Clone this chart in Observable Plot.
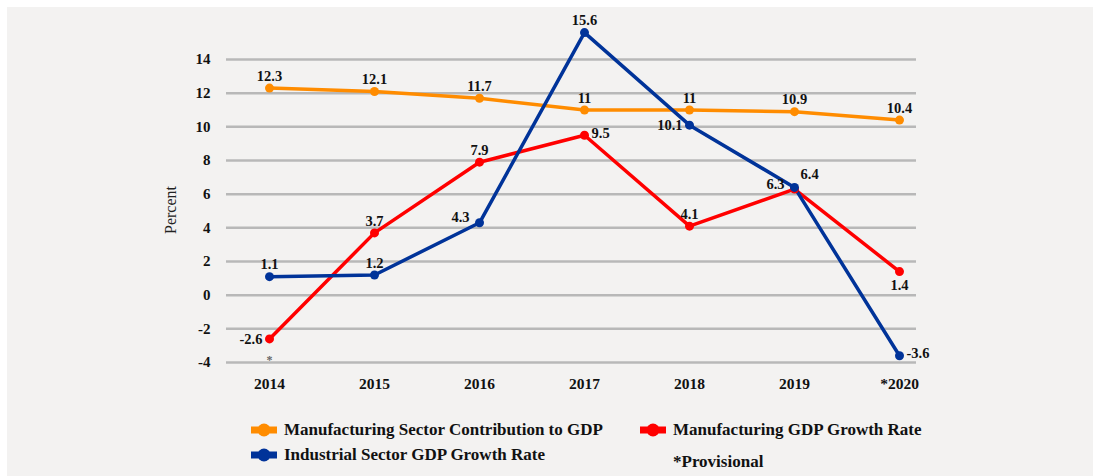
<!DOCTYPE html>
<html>
<head>
<meta charset="utf-8">
<script src="https://cdn.jsdelivr.net/npm/d3@7"></script>
<script src="https://cdn.jsdelivr.net/npm/@observablehq/plot@0.6"></script>
<style>
  html, body { margin: 0; padding: 0; background: #ffffff; width: 1093px; height: 476px; overflow: hidden; }
  #panel { position: absolute; left: 7px; top: 7px; right: 0; bottom: 0; background: #f3f2f1; }
  #chart { position: absolute; left: 0; top: 0; }
  #legend { position: absolute; left: 0; top: 0; width: 1093px; height: 476px; font-family: "Liberation Serif", "DejaVu Serif", serif; font-weight: bold; font-size: 17px; color: #111; }
  .item { position: absolute; display: flex; align-items: center; white-space: nowrap; }
  .item svg { margin-right: 6px; }
  #chart svg text { font-family: "Liberation Serif", "DejaVu Serif", serif; }
</style>
</head>
<body>
<div id="panel"></div>
<div id="chart"></div>
<div id="legend"></div>
<script>
const years = ["2014", "2015", "2016", "2017", "2018", "2019", "2020"];
const tickLabels = ["2014", "2015", "2016", "2017", "2018", "2019", "*2020"];
const yTicks = [-4, -2, 0, 2, 4, 6, 8, 10, 12, 14];

const seriesNames = [
  "Manufacturing Sector Contribution to GDP",
  "Manufacturing GDP Growth Rate",
  "Industrial Sector GDP Growth Rate"
];
const mfgContribution = [12.3, 12.1, 11.7, 11, 11, 10.9, 10.4];
const mfgGrowth = [-2.6, 3.7, 7.9, 9.5, 4.1, 6.3, 1.4];
const industrialGrowth = [1.1, 1.2, 4.3, 15.6, 10.1, 6.4, -3.6];

// label placement (styling only)
const mfgContributionPos = ["above", "above", "above", "above", "above", "above", "above"];
const mfgGrowthPos = ["left", "above", "above", "right", "above", "upperleft", "below"];
const industrialGrowthPos = ["above", "above", "upperleft", "above", "left", "upperright", "right"];

const colors = ["#ff8c00", "#ff0000", "#003399"];
const footnote = "*Provisional";

function rows(vals, pos, s) {
  return years.map((y, i) => ({year: y, value: vals[i], pos: pos[i], series: s}));
}
const dataC = rows(mfgContribution, mfgContributionPos, seriesNames[0]);
const dataG = rows(mfgGrowth, mfgGrowthPos, seriesNames[1]);
const dataI = rows(industrialGrowth, industrialGrowthPos, seriesNames[2]);
const allData = [...dataC, ...dataG, ...dataI];

const placements = {
  above: {dx: 0, dy: -12, textAnchor: "middle"},
  below: {dx: 0, dy: 14, textAnchor: "middle"},
  left: {dx: -7, dy: 0, textAnchor: "end"},
  right: {dx: 7, dy: -2, textAnchor: "start"},
  upperleft: {dx: -10, dy: -5, textAnchor: "end"},
  upperright: {dx: 6, dy: -13, textAnchor: "start"}
};

const labelFont = {fontSize: 14.5, fontWeight: "bold", fill: "#111"};
const labelMarks = Object.entries(placements).map(([k, p]) =>
  Plot.text(allData.filter(d => d.pos === k), {
    x: "year", y: "value", text: d => String(d.value),
    dx: p.dx, dy: p.dy, textAnchor: p.textAnchor, ...labelFont
  })
);

const chart = Plot.plot({
  width: 1093,
  height: 400,
  marginLeft: 226,
  marginRight: 177,
  marginTop: 59,
  marginBottom: 38,
  style: {background: "transparent", overflow: "visible"},
  x: {type: "point", domain: years, padding: 0, insetLeft: 41, insetRight: 16},
  y: {domain: [-4, 14], ticks: yTicks},
  marks: [
    Plot.ruleY(yTicks, {stroke: "#b8b8b8", strokeWidth: 2.5}),
    Plot.axisY({ticks: yTicks, tickSize: 0, tickPadding: 16, label: null, fontSize: 15, fontWeight: "bold", fill: "#111",
      tickFormat: d => String(d)}),
    Plot.axisX({tickSize: 0, tickPadding: 15, label: null, fontSize: 15.5, fontWeight: "bold", fill: "#111",
      tickFormat: d => tickLabels[years.indexOf(d)]}),
    Plot.text(["Percent"], {frameAnchor: "left", dx: -56, dy: 23, rotate: -90, fontSize: 16, fill: "#222"}),
    Plot.line(dataC, {x: "year", y: "value", stroke: colors[0], strokeWidth: 3.5}),
    Plot.line(dataG, {x: "year", y: "value", stroke: colors[1], strokeWidth: 3.5}),
    Plot.line(dataI, {x: "year", y: "value", stroke: colors[2], strokeWidth: 3.5}),
    Plot.dot(dataC, {x: "year", y: "value", fill: colors[0], r: 4.5}),
    Plot.dot(dataG, {x: "year", y: "value", fill: colors[1], r: 4.5}),
    Plot.dot(dataI, {x: "year", y: "value", fill: colors[2], r: 4.5}),
    ...labelMarks,
    Plot.text(dataG.slice(0, 1), {x: "year", y: "value", text: () => "*", dy: 21, fontSize: 12, fill: "#666", fontWeight: "bold"})
  ]
});
document.getElementById("chart").appendChild(chart);

// legend
const legend = document.getElementById("legend");
const items = [
  {name: seriesNames[0], color: colors[0], left: 250, top: 430},
  {name: seriesNames[1], color: colors[1], left: 639, top: 430},
  {name: seriesNames[2], color: colors[2], left: 250, top: 455}
];
items.forEach(it => {
  const div = document.createElement("div");
  div.className = "item";
  div.style.left = it.left + "px";
  div.style.top = (it.top - 10) + "px";
  div.style.height = "20px";
  div.innerHTML = `<svg width="28" height="14"><line x1="1" x2="27" y1="7" y2="7" stroke="${it.color}" stroke-width="7"/><circle cx="14" cy="7" r="6.5" fill="${it.color}"/></svg><span>${it.name}</span>`;
  legend.appendChild(div);
});
const fn = document.createElement("div");
fn.className = "item";
fn.style.left = "673px";
fn.style.top = "452px";
fn.style.height = "20px";
fn.textContent = footnote;
legend.appendChild(fn);
</script>
</body>
</html>
